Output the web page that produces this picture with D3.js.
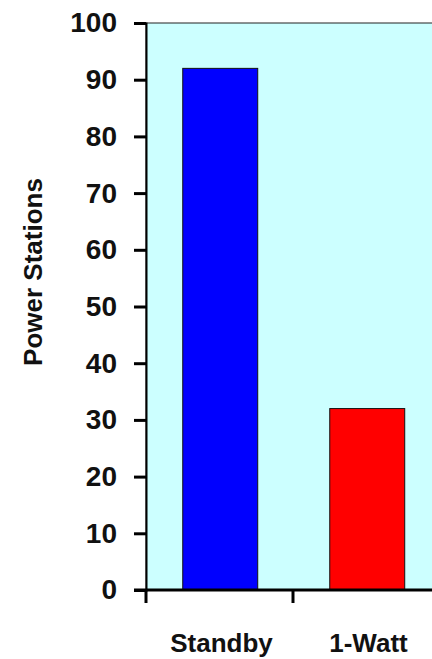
<!DOCTYPE html>
<html>
<head>
<meta charset="utf-8">
<script src="https://cdn.jsdelivr.net/npm/d3@7"></script>
<style>
  body { margin: 0; background: #fff; }
  svg { display: block; }
  text { font-family: "Liberation Sans", Arial, sans-serif; font-weight: bold; fill: #111; }
</style>
</head>
<body>
<div id="chart"></div>
<script>
// Chart data
const categories = ['Standby', '1-Watt'];
const stations = [92, 32];
const barColors = ['#0000ff', '#ff0000'];
const yTicks = [0, 10, 20, 30, 40, 50, 60, 70, 80, 90, 100];

const width = 432, height = 659;
const plot = { left: 146, top: 23, right: 440, bottom: 590 };

const svg = d3.select('#chart').append('svg')
    .attr('width', width)
    .attr('height', height);

// Scales
const x = d3.scaleBand()
    .domain(categories)
    .range([plot.left, plot.right])
    .padding(0);

const y = d3.scaleLinear()
    .domain([0, 100])
    .range([plot.bottom, plot.top]);

// Plot background
svg.append('rect')
    .attr('x', plot.left)
    .attr('y', plot.top)
    .attr('width', plot.right - plot.left)
    .attr('height', plot.bottom - plot.top)
    .attr('fill', '#ccffff')
    .attr('stroke', '#222')
    .attr('stroke-width', 1);

// Bars (half the band, centred)
svg.append('g').selectAll('rect')
    .data(categories)
    .enter()
    .append('rect')
    .attr('x', d => x(d) + x.bandwidth() * 0.25)
    .attr('width', x.bandwidth() * 0.51)
    .attr('y', (d, i) => y(stations[i]))
    .attr('height', (d, i) => y(0) - y(stations[i]))
    .attr('fill', (d, i) => barColors[i])
    .attr('stroke', '#111')
    .attr('stroke-width', 1);

// Y axis
const yAxis = svg.append('g')
    .attr('transform', `translate(${plot.left},0)`)
    .call(d3.axisLeft(y).tickValues(yTicks).tickSize(12).tickPadding(17));
yAxis.select('.domain').attr('stroke', '#000').attr('stroke-width', 2);
yAxis.selectAll('.tick line').attr('stroke', '#000').attr('stroke-width', 3);
yAxis.selectAll('.tick text')
    .attr('font-size', '28px')
    .attr('font-family', '"Liberation Sans", Arial, sans-serif')
    .attr('font-weight', 'bold')
    .attr('fill', '#111');

// X axis: ticks at the band boundaries
const xAxisG = svg.append('g');
xAxisG.append('line')
    .attr('x1', plot.left - 12).attr('x2', plot.right)
    .attr('y1', plot.bottom).attr('y2', plot.bottom)
    .attr('stroke', '#000')
    .attr('stroke-width', 3);
const boundaries = categories.map(c => x(c)).concat([plot.right]);
xAxisG.selectAll('.xtick')
    .data(boundaries)
    .enter()
    .append('line')
    .attr('class', 'xtick')
    .attr('x1', d => d).attr('x2', d => d)
    .attr('y1', plot.bottom).attr('y2', plot.bottom + 13)
    .attr('stroke', '#000')
    .attr('stroke-width', 3);
xAxisG.selectAll('.xlabel')
    .data(categories)
    .enter()
    .append('text')
    .attr('class', 'xlabel')
    .attr('x', d => x(d) + x.bandwidth() / 2 + 2)
    .attr('y', 652)
    .attr('text-anchor', 'middle')
    .attr('font-size', '26px')
    .text(d => d);

// Y axis title
svg.append('text')
    .attr('transform', 'translate(42,272) rotate(-90)')
    .attr('text-anchor', 'middle')
    .attr('font-size', '26px')
    .text('Power Stations');
</script>
</body>
</html>
